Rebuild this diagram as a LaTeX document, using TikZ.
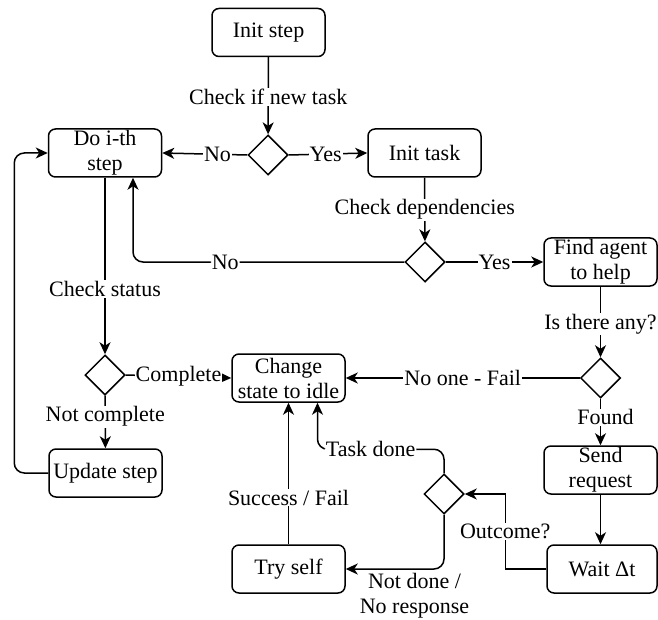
\documentclass[tikz,border=0pt]{standalone}
\usepackage{fontspec}
\setmainfont{Liberation Serif}
\newfontfamily\diagfont{Liberation Serif}
\usetikzlibrary{shapes.geometric,arrows.meta,calc}
\begin{document}
\begin{tikzpicture}[x=1pt,y=-1pt,
 font=\diagfont\fontsize{22}{25}\selectfont,
 box/.style={draw, line width=1.5pt, rounded corners=7pt, minimum width=113pt, minimum height=48pt, align=center, inner sep=1pt},
 dia/.style={draw, diamond, line width=1.5pt, minimum width=40pt, minimum height=40pt, inner sep=0pt},
 arr/.style={line width=1.5pt, -{Stealth[length=12pt,width=11pt,inset=3.5pt]}},
 lbl/.style={fill=white, inner sep=1pt}]
\useasboundingbox (0,0) rectangle (658,620);
\node[box] (init) at (268.5,32.5) {Init step};
\node[dia] (d1) at (268,155) {};
\node[box] (dostep) at (105,153) {Do i-th\\step};
\node[box] (inittask) at (424.5,153) {Init task};
\node[dia] (d2) at (425,262) {};
\node[box] (find) at (600.5,262) {Find agent\\to help};
\node[dia] (d3) at (105,375) {};
\node[box] (change) at (288.5,378) {Change\\state to idle};
\node[dia] (d4) at (600.5,378) {};
\node[box] (send) at (600.5,470) {Send\\request};
\node[box, minimum width=110pt] (wait) at (602,569) {Wait Δt};
\node[dia] (d5) at (444,494) {};
\node[box] (update) at (105.5,473) {Update step};
\node[box] (tryself) at (288.5,569) {Try self};

\draw[arr] (init) -- node[lbl, pos=0.52]{Check if new task} (d1);
\draw[arr] (d1.west) -- node[lbl, pos=0.35]{No} (dostep.east);
\draw[arr] (d1.east) -- node[lbl, pos=0.47]{Yes} (inittask.west);
\draw[arr] (inittask) -- node[lbl, pos=0.5]{Check dependencies} (d2);
\draw[arr] (d2.east) -- node[lbl, pos=0.5]{Yes} (find.west);
\draw[arr, rounded corners=10pt] (d2.west) -| node[lbl, pos=0.33]{No} ($(dostep.south)+(28,0)$);
\draw[arr] (dostep) -- node[lbl, pos=0.63]{Check status} (d3);
\draw[arr] (d3.east) -- node[lbl, pos=0.5]{Complete} (change.west);
\draw[arr] (d3) -- node[lbl, pos=0.4]{Not complete} (update);
\draw[arr, rounded corners=10pt] (update.west) -- ++(-34,0) |- (dostep.west);
\draw[arr] (find) -- node[lbl, pos=0.53]{Is there any?} (d4);
\draw[arr] (d4.west) -- node[lbl, pos=0.5]{No one - Fail} (change.east);
\draw[arr] (d4) -- node[lbl, pos=0.4, xshift=5pt]{Found} (send);
\draw[arr] (send.south) -- (send.south |- wait.north);
\draw[arr] (wait.west) -- ++(-41,0) |- node[lbl, pos=0.25]{Outcome?} (d5.east);
\draw[arr, rounded corners=10pt] (d5.north) -- ++(0,-24) -| node[lbl, pos=0.29]{Task done} ($(change.south)+(29,0)$);
\draw[arr, rounded corners=10pt] (d5.south) |- node[lbl, pos=0.65, anchor=north, yshift=-2pt, align=center]{Not done /\\No response} (tryself.east);
\draw[arr] (tryself) -- node[lbl, pos=0.33]{Success / Fail} (change);
\end{tikzpicture}
\end{document}
